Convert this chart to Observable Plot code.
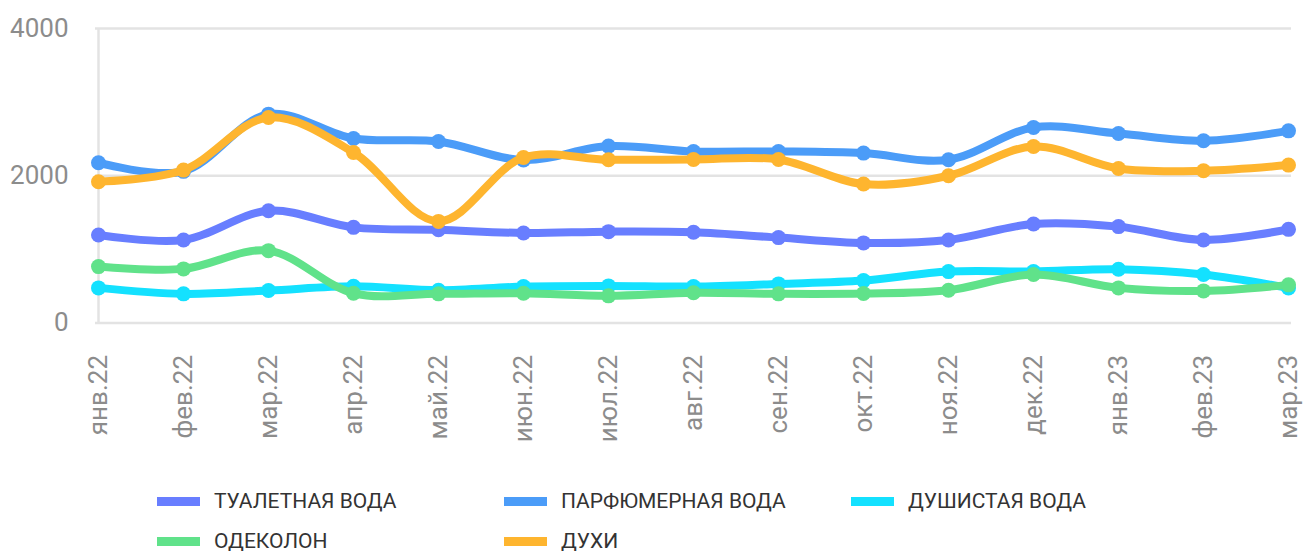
<!DOCTYPE html>
<html>
<head>
<meta charset="utf-8">
<script src="https://cdn.jsdelivr.net/npm/d3@7"></script>
<script src="https://cdn.jsdelivr.net/npm/@observablehq/plot@0.6"></script>
<style>
  html, body { margin: 0; padding: 0; background: #fff; }
  #wrap { width: 1303px; font-family: Roboto, "Noto Sans", sans-serif; }
  #legend { display: grid; grid-template-columns: 347px 347px 347px; padding-left: 157px; padding-top: 11px; }
  .item { display: flex; align-items: center; height: 40px; font-size: 21px; color: #333; }
  .sw { width: 43px; height: 9px; margin-right: 14px; flex: none; }
</style>
</head>
<body>
<div id="wrap"><div id="chart"></div><div id="legend"></div></div>
<script>
const months = ["янв.22","фев.22","мар.22","апр.22","май.22","июн.22","июл.22","авг.22","сен.22","окт.22","ноя.22","дек.22","янв.23","фев.23","мар.23"];
const seriesNames = ["ТУАЛЕТНАЯ ВОДА","ПАРФЮМЕРНАЯ ВОДА","ДУШИСТАЯ ВОДА","ОДЕКОЛОН","ДУХИ"];
const seriesColors = ["#687eff","#4b9cf8","#14e1ff","#60e28a","#feb52f"];
const tualet   = [1196,1128,1525,1299,1266,1223,1241,1232,1160,1088,1128,1345,1309,1128,1272];
const parfum   = [2177,2060,2837,2506,2466,2213,2403,2330,2330,2308,2217,2655,2574,2475,2610];
const dushist  = [477,396,441,499,445,495,504,495,531,576,698,700,730,658,477];
const odekolon = [766,735,983,404,396,404,369,410,396,400,445,658,477,436,518];
const duhi     = [1919,2077,2791,2316,1380,2248,2217,2221,2221,1887,2000,2397,2099,2068,2145];
const yTicks = [0,2000,4000];

const values = [tualet, parfum, dushist, odekolon, duhi];
const data = values.flatMap((arr, i) => arr.map((v, j) => ({series: seriesNames[i], month: months[j], value: v})));

const seriesMarks = seriesNames.flatMap((name, i) => {
  const d = data.filter(r => r.series === name);
  return [
    Plot.line(d, {x: "month", y: "value", stroke: seriesColors[i], strokeWidth: 8, curve: "catmull-rom"}),
    Plot.dot(d, {x: "month", y: "value", r: 7.5, fill: seriesColors[i], stroke: "none"})
  ];
});

const chart = Plot.plot({
  width: 1303,
  height: 470,
  marginLeft: 95,
  marginRight: 12,
  marginTop: 28,
  marginBottom: 147.5,
  style: {fontFamily: "Roboto", background: "#fff"},
  x: {type: "point", domain: months, padding: 0},
  y: {domain: [0, 4000]},
  marks: [
    Plot.ruleY(yTicks, {stroke: "#e3e3e3", strokeWidth: 2.5}),
    Plot.ruleX([months[0]], {stroke: "#e3e3e3", strokeWidth: 2.5}),
    Plot.axisY(yTicks, {tickSize: 0, tickPadding: 27, fontSize: 26, color: "#8c8c8c", tickFormat: d => String(d), label: null}),
    Plot.axisX(months, {tickSize: 0, tickPadding: 32, tickRotate: -90, fontSize: 26, color: "#8c8c8c", label: null}),
    ...seriesMarks
  ]
});
document.getElementById("chart").appendChild(chart);

const legend = document.getElementById("legend");
const legendOrder = [0,1,2,3,4];
legendOrder.forEach(i => {
  const it = document.createElement("div");
  it.className = "item";
  const sw = document.createElement("span");
  sw.className = "sw";
  sw.style.background = seriesColors[i];
  const tx = document.createElement("span");
  tx.textContent = seriesNames[i];
  it.appendChild(sw); it.appendChild(tx);
  legend.appendChild(it);
});
</script>
</body>
</html>
